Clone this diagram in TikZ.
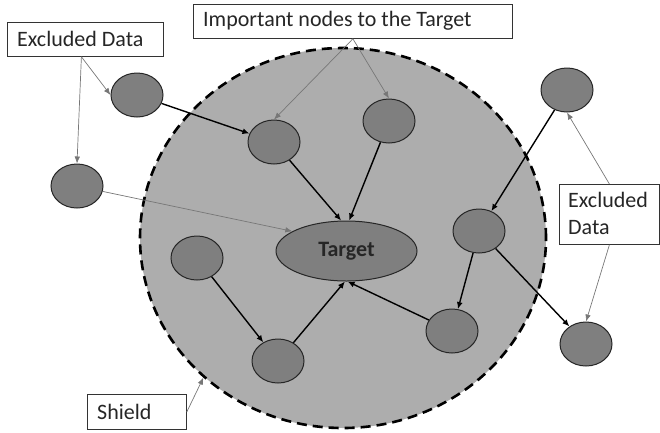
\documentclass[tikz,border=0pt]{standalone}
\usepackage{fontspec}
\setmainfont{Carlito}
\usetikzlibrary{shapes.geometric,arrows.meta}
\definecolor{shieldgray}{HTML}{ADADAD}
\definecolor{nodegray}{HTML}{7F7F7F}
\definecolor{thingray}{HTML}{777777}
\definecolor{txt}{HTML}{262626}
\tikzset{
  small/.style={ellipse,draw=black!85,line width=1pt,fill=nodegray,minimum width=52pt,minimum height=44pt,inner sep=0pt},
  lbl/.style={draw=black!80,line width=0.8pt,fill=white,inner sep=0pt,anchor=north west},
  ltext/.style={font=\fontsize{22}{27}\selectfont,text=txt,inner sep=0pt,anchor=west},
  strong/.style={line width=1.4pt,-{Latex[length=7pt,width=6pt]}},
  weak/.style={draw=thingray,line width=0.7pt,-{Latex[length=7pt,width=5.5pt]}},
}
\begin{document}
\begin{tikzpicture}[x=1pt,y=-1pt]
\useasboundingbox (0,0) rectangle (660,432);
\node[ellipse,draw=black,dash pattern=on 10pt off 6pt,line width=2.6pt,fill=shieldgray,minimum width=406pt,minimum height=380pt,inner sep=0pt] (shield) at (343,238) {};
\node[ellipse,draw=black!85,line width=1pt,fill=nodegray,minimum width=141pt,minimum height=60pt,inner sep=0pt,font=\fontsize{22}{26}\selectfont\bfseries,text=txt] (target) at (346.5,251) {Target};
\node[small] (A) at (137,95) {};
\node[small] (B) at (77,186) {};
\node[small] (C) at (274,142) {};
\node[small] (D) at (389,121) {};
\node[small] (E) at (567,90) {};
\node[small] (F) at (479,231) {};
\node[small] (G) at (197,258) {};
\node[small] (H) at (278,361) {};
\node[small] (I) at (452,331) {};
\node[small] (J) at (586,344) {};
\node[lbl,minimum width=156pt,minimum height=34pt] (exl) at (7,22) {};
\node[ltext] (exlt) at (17,39) {Excluded Data};
\node[lbl,minimum width=319pt,minimum height=34pt] (imp) at (193,4) {};
\node[ltext] (impt) at (203,21) {Important nodes to the Target};
\node[lbl,minimum width=100pt,minimum height=60pt] (exr) at (559,184) {};
\node[ltext] (exrt1) at (568,200) {Excluded};
\node[ltext] (exrt2) at (568,228) {Data};
\node[lbl,minimum width=99pt,minimum height=35pt] (shl) at (87,394) {};
\node[ltext] (shlt) at (97,412) {Shield};
% strong connectors
\draw[strong] (A) -- (C);
\draw[strong] (C) -- (target.100);
\draw[strong] (D) -- (target.85);
\draw[strong] (E) -- (F);
\draw[strong] (F) -- (I);
\draw[strong] (F) -- (J);
\draw[strong] (I) -- (target.-88);
\draw[strong] (G) -- (H);
\draw[strong] (H) -- (target.-93);
\draw[weak] (B) -- (target.160);
% label connectors
\draw[weak] (exl.south) ++(-4,0) coordinate (exlp) -- (A.west);
\draw[weak] (exlp) -- (B.north);
\draw[weak] (imp.south) -- (C.north);
\draw[weak] (imp.south) -- (D.north);
\draw[weak] (exr.north) -- (E.south);
\draw[weak] (exr.south) -- (J.north);
\draw[weak] (shl.east) -- (shield.225);
\end{tikzpicture}
\end{document}
